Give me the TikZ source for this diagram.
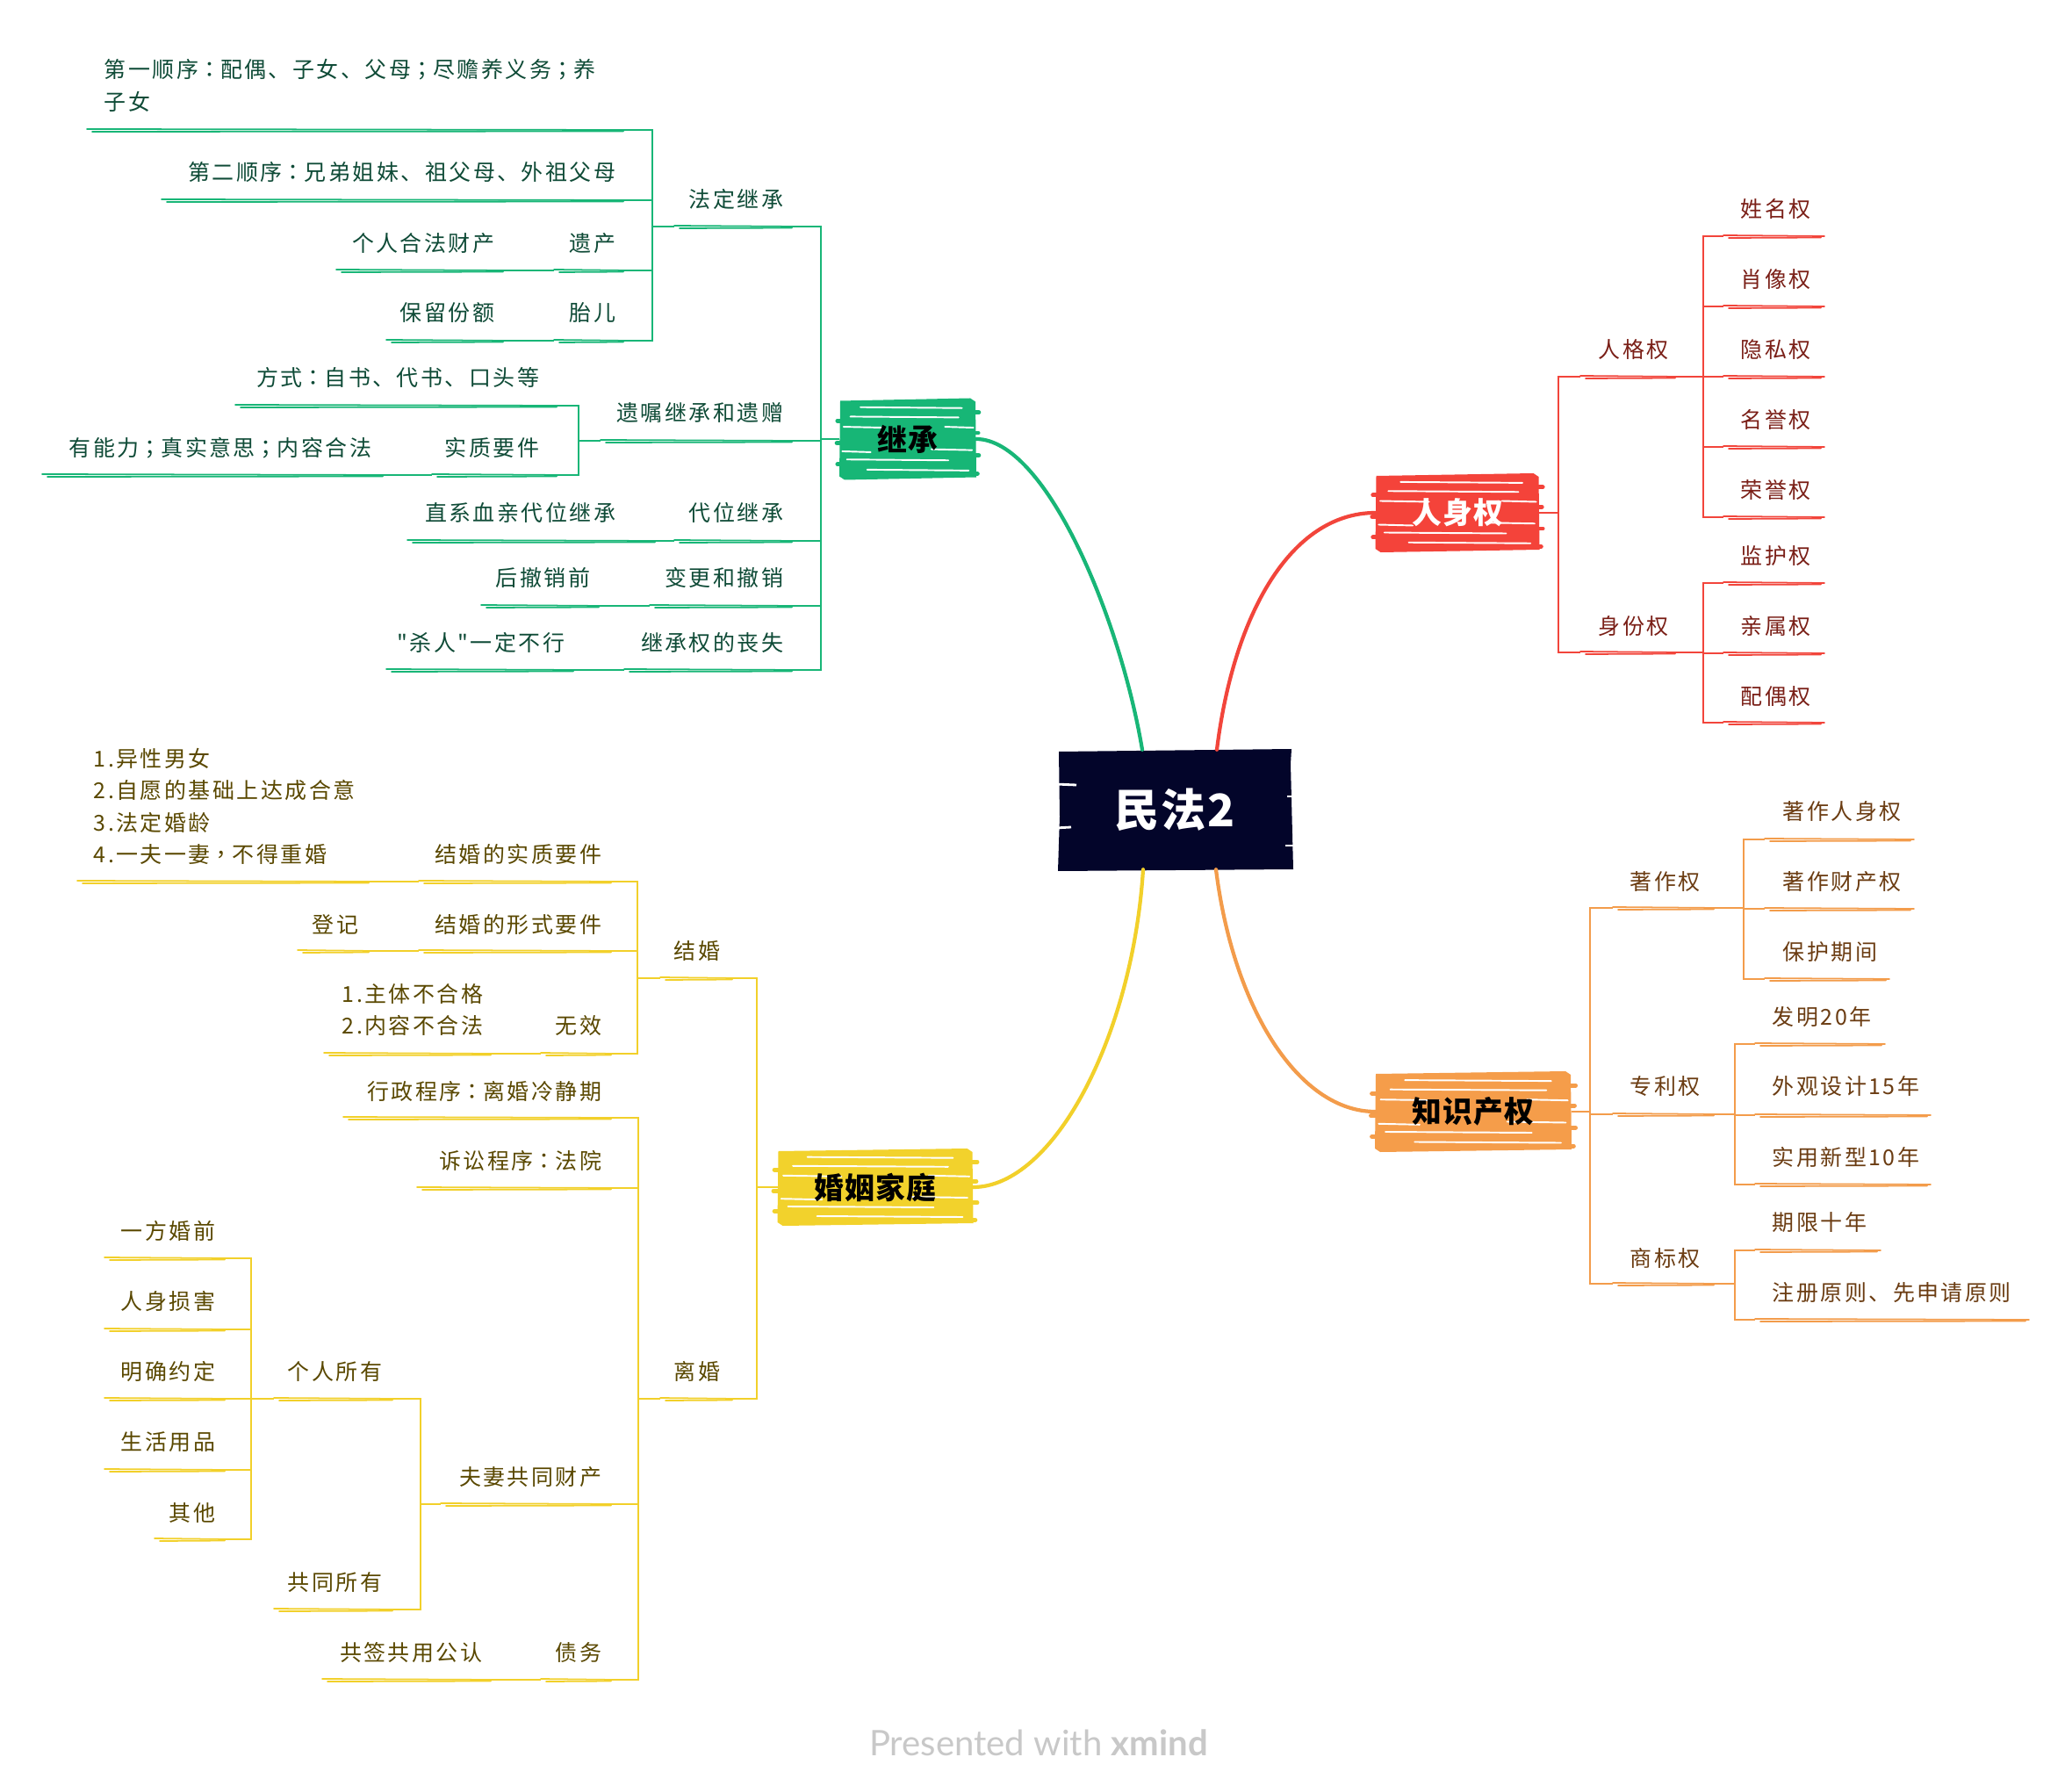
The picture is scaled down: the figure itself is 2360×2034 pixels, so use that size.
\documentclass[tikz,border=0pt]{standalone}
\usepackage{fontspec}
\newfontfamily\cjk[LetterSpace=10]{Noto Sans CJK SC}
\newfontfamily\cjktc[LetterSpace=10]{Noto Sans CJK TC}
\newfontfamily\cjkm[LetterSpace=4]{Noto Sans CJK SC}
\newfontfamily\footfont{Lato}
\newcommand{\pc}[1]{{\cjktc #1}}
\usetikzlibrary{backgrounds}
\definecolor{gline}{HTML}{18B677}
\definecolor{gfill}{HTML}{17B676}
\definecolor{gtext}{HTML}{0F4B37}
\definecolor{rline}{HTML}{F2453B}
\definecolor{rfill}{HTML}{F4433A}
\definecolor{rtext}{HTML}{7A1F17}
\definecolor{oline}{HTML}{F39C4B}
\definecolor{ofill}{HTML}{F59D4A}
\definecolor{otext}{HTML}{6B3C12}
\definecolor{yline}{HTML}{F2D02A}
\definecolor{yfill}{HTML}{F2D22C}
\definecolor{ytext}{HTML}{5A4800}
\definecolor{cfill}{HTML}{03052A}
\definecolor{foot}{HTML}{C8C8C8}
\tikzset{
  txt/.style={font=\cjk\fontsize{7.1}{10.4}\selectfont, inner sep=0pt, align=left},
  ul/.style={line width=0.5pt, line cap=round},
  conn/.style={line width=0.5pt},
  curv/.style={line width=1.2pt, line cap=round},
  mainnode/.style={font=\cjkm\bfseries\fontsize{9.6}{11}\selectfont, inner sep=0pt},
}
% name, anchor, x, y, ul left, ul right, ul y, text
\newcommand{\topic}[8]{%
  \node[txt, anchor=#2] (#1) at (#3,#4) {#8};
  \coordinate (#1L) at (#5,#7);
  \coordinate (#1R) at (#6,#7);
  \draw[ul] ([shift={(0,-1)}]#1L) -- (#1R);
  \draw[ul] ([shift={(6,2)}]#1L) -- ([shift={(-4,1.5)}]#1R);
}
% node, colour, half width, half height
\newcommand{\scrib}[4]{%
  \begin{scope}[on background layer, shift={(#1.center)}]
    \fill[#2] (-#3,-#4+3) -- (#3-6,-#4) -- (#3,-#4+4) -- (#3+1,#4-3) -- (-#3+5,#4) -- (-#3-1,#4-4) -- cycle;
    \foreach \yy/\xa/\xb in {-0.78/-0.7/0.8, -0.55/-0.85/0.75, -0.3/-0.95/-0.35, -0.3/0.55/0.97, 0.25/0.35/0.95, 0.3/-0.97/-0.55, 0.5/-0.9/0.6, 0.75/-0.6/0.9}{
      \draw[white, line width=0.55pt, line cap=round] (\xa*#3,\yy*#4) -- (\xb*#3,\yy*#4+1);
    }
    \foreach \yy/\xa/\xb in {-0.65/0.7/1.05, -0.15/0.75/1.04, 0.4/0.8/1.05, 0.85/0.6/1.03, -0.45/-1.04/-0.7, 0.1/-1.05/-0.75, 0.62/-1.04/-0.7}{
      \draw[#2, line width=1.4pt, line cap=round] (\xa*#3,\yy*#4) -- (\xb*#3,\yy*#4);
    }
  \end{scope}
}
\begin{document}
\begin{tikzpicture}[x=0.01cm, y=-0.01cm]
\useasboundingbox (0,0) rectangle (2360,2034);
\begin{scope}[on background layer]
  \fill[white] (0,0) rectangle (2360,2034);
\end{scope}

% ---------- centre ----------
\node[font=\cjkm\bfseries\fontsize{14.5}{16}\selectfont, inner sep=0pt, text=white,
      minimum width=2.68cm, minimum height=1.35cm] (cen) at (1338,922) {民法2};
\begin{scope}[on background layer]
  \fill[cfill] (1206,856) -- (1471,853) -- (1470,870) -- (1473,990) -- (1205,992) -- (1207,930) -- cycle;
  \draw[white, line width=0.8pt] (1202,893) -- (1226,894);
  \draw[white, line width=0.8pt] (1202,943) -- (1220,942);
  \draw[white, line width=0.8pt] (1474,907) -- (1466,907);
  \draw[white, line width=0.8pt] (1475,963) -- (1464,963);
\end{scope}

% ---------- main topics ----------
\node[mainnode, minimum width=1.54cm, minimum height=0.93cm, text=black] (jc) at (1034,500) {继承};
\scrib{jc}{gfill}{77}{46.5}
\node[mainnode, minimum width=1.85cm, minimum height=0.9cm, text=white] (rs) at (1660,584) {人身权};
\scrib{rs}{rfill}{92.5}{45}
\node[mainnode, minimum width=2.22cm, minimum height=0.92cm, text=black] (zs) at (1678,1266) {知识产权};
\scrib{zs}{ofill}{111}{46}
\node[mainnode, minimum width=2.21cm, minimum height=0.88cm, text=black] (hy) at (997,1352) {婚姻家庭};
\scrib{hy}{yfill}{110.5}{44}

% ---------- curves ----------
\draw[curv, draw=gline] ([shift={(-37,0)}]cen.north) .. controls (1275,700) and (1190,500) .. (jc.east);
\draw[curv, draw=rline] ([shift={(48,0)}]cen.north) .. controls (1405,700) and (1470,584) .. (rs.west);
\draw[curv, draw=oline] ([shift={(47,0)}]cen.south) .. controls (1405,1150) and (1480,1266) .. (zs.west);
\draw[curv, draw=yline] ([shift={(-36,0)}]cen.south) .. controls (1290,1180) and (1200,1352) .. (hy.east);

% ---------- 继承 (green) ----------
\begin{scope}[color=gline, txt/.append style={text=gtext}]
  \coordinate (Tjc) at (935,500);
  \draw[conn] (jc.west) -- (Tjc);
  \topic{fd}{east}{893}{227}{768}{906}{258}{法定继承}
  \topic{yz}{east}{893}{470}{684}{906}{502}{遗嘱继承和遗赠}
  \topic{dw}{east}{893}{584}{768}{906}{616}{代位继承}
  \topic{bg}{east}{893}{658}{740}{906}{690}{变更和撤销}
  \topic{ss}{east}{893}{732}{711}{906}{763}{继承权的丧失}
  \foreach \c in {fd,yz,dw,bg,ss}{\draw[conn] (Tjc) |- (\c R);}

  \coordinate (Tfd) at (743,258);
  \draw[conn] (fdL) -- (Tfd);
  \topic{fda}{west}{118}{97.5}{99}{714}{148}{第一顺序\pc{：}配偶、子女、父母\pc{；}尽赡养义务\pc{；}养\\子女}
  \topic{fdb}{east}{702}{196}{184}{714}{228}{第二顺序\pc{：}兄弟姐妹、祖父母、外祖父母}
  \topic{fdc}{east}{702}{277}{631}{714}{308}{遗产}
  \topic{fdd}{east}{702}{356}{631}{714}{388}{胎儿}
  \foreach \c in {fda,fdb,fdc,fdd}{\draw[conn] (Tfd) |- (\c R);}
  \topic{fdce}{east}{564}{277}{383}{577}{308}{个人合法财产}
  \draw[conn] (fdcL) -- (fdceR);
  \topic{fdde}{east}{564}{356}{440}{577}{388}{保留份额}
  \draw[conn] (fddL) -- (fddeR);

  \coordinate (Tyz) at (659,502);
  \draw[conn] (yzL) -- (Tyz);
  \topic{yza}{east}{615}{430}{268}{638}{462}{方式\pc{：}自书、代书、口头等}
  \topic{yzb}{east}{615}{510}{492}{638}{541}{实质要件}
  \draw[conn] (Tyz) |- (yzaR);
  \draw[conn] (Tyz) |- (yzbR);
  \topic{yzc}{east}{424}{510}{48}{440}{541}{有能力\pc{；}真实意思\pc{；}内容合法}
  \draw[conn] (yzbL) -- (yzcR);

  \topic{dwa}{east}{702}{584}{464}{750}{616}{直系血亲代位继承}
  \draw[conn] (dwL) -- (dwaR);
  \topic{bga}{east}{673}{658}{548}{686}{690}{后撤销前}
  \draw[conn] (bgL) -- (bgaR);
  \topic{ssa}{east}{644}{732}{440}{657}{763}{"杀人"一定不行}
  \draw[conn] (ssL) -- (ssaR);
\end{scope}

% ---------- 人身权 (red) ----------
\begin{scope}[color=rline, txt/.append style={text=rtext}]
  \coordinate (Trs) at (1775,584);
  \draw[conn] (rs.east) -- (Trs);
  \topic{rg}{west}{1820}{398}{1800}{1912}{429}{人格权}
  \topic{sf}{west}{1820}{713}{1800}{1912}{743}{身份权}
  \draw[conn] (Trs) |- (rgL);
  \draw[conn] (Trs) |- (sfL);
  \coordinate (Trg) at (1940,429);
  \draw[conn] (rgR) -- (Trg);
  \topic{rga}{west}{1982}{238}{1963}{2078}{269}{姓名权}
  \topic{rgb}{west}{1982}{318}{1963}{2078}{349}{肖像权}
  \topic{rgc}{west}{1982}{398}{1963}{2078}{429}{隐私权}
  \topic{rgd}{west}{1982}{478}{1963}{2078}{509}{名誉权}
  \topic{rge}{west}{1982}{558}{1963}{2078}{589}{荣誉权}
  \foreach \c in {rga,rgb,rgc,rgd,rge}{\draw[conn] (Trg) |- (\c L);}
  \coordinate (Tsf) at (1940,743);
  \draw[conn] (sfR) -- (Tsf);
  \topic{sfa}{west}{1982}{633}{1963}{2078}{664}{监护权}
  \topic{sfb}{west}{1982}{713}{1963}{2078}{744}{亲属权}
  \topic{sfc}{west}{1982}{793}{1963}{2078}{823}{配偶权}
  \foreach \c in {sfa,sfb,sfc}{\draw[conn] (Tsf) |- (\c L);}
\end{scope}

% ---------- 知识产权 (orange) ----------
\begin{scope}[color=oline, txt/.append style={text=otext}]
  \coordinate (Tzs) at (1811,1266);
  \draw[conn] (zs.east) -- (Tzs);
  \topic{zz}{west}{1856}{1004}{1837}{1956}{1034}{著作权}
  \topic{zl}{west}{1856}{1237}{1837}{1956}{1269}{专利权}
  \topic{sb}{west}{1856}{1433}{1837}{1956}{1462}{商标权}
  \foreach \c in {zz,zl,sb}{\draw[conn] (Tzs) |- (\c L);}
  \coordinate (Tzz) at (1986,1034);
  \draw[conn] (zzR) -- (Tzz);
  \topic{zza}{west}{2030}{924}{2010}{2180}{956}{著作人身权}
  \topic{zzb}{west}{2030}{1004}{2010}{2180}{1035}{著作财产权}
  \topic{zzc}{west}{2030}{1084}{2010}{2152}{1115}{保护期间}
  \foreach \c in {zza,zzb,zzc}{\draw[conn] (Tzz) |- (\c L);}
  \coordinate (Tzl) at (1976,1269);
  \draw[conn] (zlR) -- (Tzl);
  \topic{zla}{west}{2018}{1158}{1999}{2147}{1189}{发明20年}
  \topic{zlb}{west}{2018}{1237}{1999}{2199}{1270}{外观设计15年}
  \topic{zlc}{west}{2018}{1318}{1999}{2199}{1349}{实用新型10年}
  \foreach \c in {zla,zlb,zlc}{\draw[conn] (Tzl) |- (\c L);}
  \coordinate (Tsb) at (1976,1462);
  \draw[conn] (sbR) -- (Tsb);
  \topic{sba}{west}{2018}{1392}{1999}{2142}{1424}{期限十年}
  \topic{sbb}{west}{2018}{1472}{1999}{2311}{1503}{注册原则、先申请原则}
  \foreach \c in {sba,sbb}{\draw[conn] (Tsb) |- (\c L);}
\end{scope}

% ---------- 婚姻家庭 (yellow) ----------
\begin{scope}[color=yline, txt/.append style={text=ytext}]
  \coordinate (Thy) at (862,1352);
  \draw[conn] (hy.west) -- (Thy);
  \topic{jh}{east}{821}{1083}{752}{838}{1114}{结婚}
  \topic{lh}{east}{821}{1562}{752}{838}{1593}{离婚}
  \draw[conn] (Thy) |- (jhR);
  \draw[conn] (Thy) |- (lhR);

  \coordinate (Tjh) at (726,1114);
  \draw[conn] (jhL) -- (Tjh);
  \topic{jha}{east}{686}{973}{477}{700}{1004}{结婚的实质要件}
  \topic{jhb}{east}{686}{1053}{477}{700}{1083}{结婚的形式要件}
  \topic{jhc}{east}{686}{1168}{616}{700}{1200}{无效}
  \foreach \c in {jha,jhb,jhc}{\draw[conn] (Tjh) |- (\c R);}
  \topic{jhaa}{west}{106}{918.5}{88}{424}{1004}{1.异性男女\\2.自愿的基础上达成合意\\3.法定婚龄\\4.一夫一妻\pc{，}不得重婚}
  \draw[conn] (jhaL) -- (jhaaR);
  \topic{jhba}{east}{409}{1053}{339}{424}{1083}{登记}
  \draw[conn] (jhbL) -- (jhbaR);
  \topic{jhca}{west}{389}{1150}{369}{563}{1200}{1.主体不合格\\2.内容不合法}
  \draw[conn] (jhcL) -- (jhcaR);

  \coordinate (Tlh) at (727,1593);
  \draw[conn] (lhL) -- (Tlh);
  \topic{lha}{east}{686}{1243}{391}{700}{1273}{行政程序\pc{：}离婚冷静期}
  \topic{lhb}{east}{686}{1322}{475}{700}{1353}{诉讼程序\pc{：}法院}
  \topic{lhc}{east}{686}{1682}{502}{700}{1713}{夫妻共同财产}
  \topic{lhd}{east}{686}{1882}{616}{700}{1913}{债务}
  \foreach \c in {lha,lhb,lhc,lhd}{\draw[conn] (Tlh) |- (\c R);}
  \topic{lhda}{east}{550}{1882}{367}{563}{1913}{共签共用公认}
  \draw[conn] (lhdL) -- (lhdaR);

  \coordinate (Tlhc) at (479,1713);
  \draw[conn] (lhcL) -- (Tlhc);
  \topic{gr}{east}{436}{1562}{312}{451}{1593}{个人所有}
  \topic{gt}{east}{436}{1802}{312}{451}{1833}{共同所有}
  \draw[conn] (Tlhc) |- (grR);
  \draw[conn] (Tlhc) |- (gtR);
  \coordinate (Tgr) at (286,1593);
  \draw[conn] (grL) -- (Tgr);
  \topic{gra}{east}{246}{1402}{119}{260}{1433}{一方婚前}
  \topic{grb}{east}{246}{1482}{119}{260}{1514}{人身损害}
  \topic{grc}{east}{246}{1562}{119}{260}{1593}{明确约定}
  \topic{grd}{east}{246}{1642}{119}{260}{1674}{生活用品}
  \topic{gre}{east}{246}{1723}{176}{260}{1753}{其他}
  \foreach \c in {gra,grb,grc,grd,gre}{\draw[conn] (Tgr) |- (\c R);}
\end{scope}

% ---------- footer ----------
\node[font=\footfont\fontsize{11.4}{13}\selectfont, text=foot, inner sep=0pt] (footer) at (1183,1985) {Presented with \textbf{xmind}};
\end{tikzpicture}
\end{document}
